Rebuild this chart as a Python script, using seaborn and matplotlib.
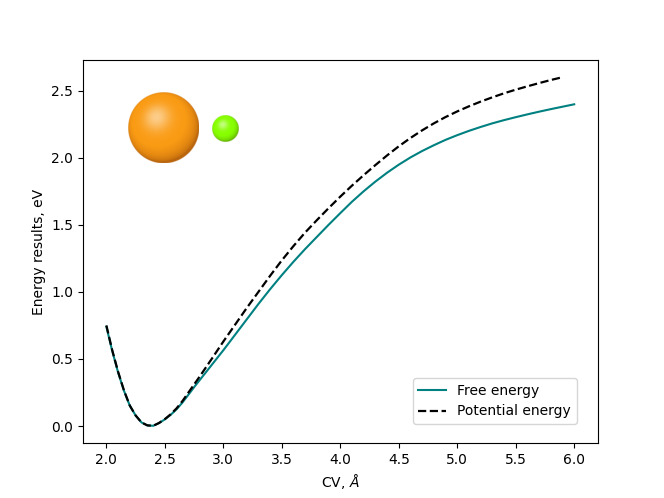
import numpy as np
import pandas as pd
import matplotlib
matplotlib.use("Agg")
import matplotlib.pyplot as plt
import seaborn as sns
from matplotlib.offsetbox import OffsetImage, AnnotationBbox

# ---- data ----
cv_free = [2.00, 2.05, 2.10, 2.15, 2.20, 2.25, 2.30, 2.35, 2.40, 2.45,
           2.50, 2.55, 2.60, 2.65, 2.70, 2.75, 2.80, 2.9,
           3.0, 3.1, 3.2, 3.3, 3.4, 3.5, 3.6, 3.7, 3.8, 3.9,
           4.0, 4.1, 4.2, 4.3, 4.4, 4.5, 4.6, 4.7, 4.8, 4.9,
           5.0, 5.1, 5.2, 5.3, 5.4, 5.5, 5.6, 5.7, 5.8, 5.9, 6.0]
free_energy = [0.74, 0.56, 0.40, 0.264, 0.152, 0.079, 0.027, 0.005, 0.002, 0.022,
               0.05, 0.084, 0.125, 0.175, 0.232, 0.29, 0.345, 0.455,
               0.565, 0.68, 0.795, 0.91, 1.02, 1.125, 1.225, 1.32, 1.41, 1.50,
               1.587, 1.672, 1.75, 1.822, 1.888, 1.948, 2.002, 2.05, 2.093, 2.133,
               2.168, 2.2, 2.229, 2.256, 2.28, 2.302, 2.323, 2.343, 2.362, 2.38, 2.398]

cv_pot = [2.00, 2.05, 2.10, 2.15, 2.20, 2.25, 2.30, 2.35, 2.40, 2.45,
          2.50, 2.55, 2.60, 2.65, 2.70, 2.75, 2.80, 2.9,
          3.0, 3.1, 3.2, 3.3, 3.4, 3.5, 3.6, 3.7, 3.8, 3.9,
          4.0, 4.1, 4.2, 4.3, 4.4, 4.5, 4.6, 4.7, 4.8, 4.9,
          5.0, 5.1, 5.2, 5.3, 5.4, 5.5, 5.6, 5.7, 5.8, 5.9]
potential_energy = [0.75, 0.565, 0.405, 0.266, 0.153, 0.079, 0.027, 0.005, 0.002, 0.023,
                    0.052, 0.088, 0.132, 0.186, 0.248, 0.31, 0.372, 0.50,
                    0.63, 0.755, 0.88, 1.00, 1.12, 1.235, 1.342, 1.443, 1.535, 1.624,
                    1.71, 1.792, 1.87, 1.945, 2.017, 2.085, 2.147, 2.204, 2.256, 2.303,
                    2.345, 2.383, 2.418, 2.45, 2.48, 2.507, 2.532, 2.556, 2.579, 2.60]

labels = ["Free energy", "Potential energy"]

df_free = pd.DataFrame({"cv": cv_free, "e": free_energy})
df_pot = pd.DataFrame({"cv": cv_pot, "e": potential_energy})

fig, ax = plt.subplots(figsize=(6.64, 4.98), dpi=100)

sns.lineplot(data=df_free, x="cv", y="e", color="teal", linewidth=1.5,
             label=labels[0], ax=ax)
sns.lineplot(data=df_pot, x="cv", y="e", color="black", linewidth=1.6,
             linestyle="--", label=labels[1], ax=ax)

ax.set_xlabel(r"CV, $\AA$")
ax.set_ylabel("Energy results, eV")
ax.legend(loc=(0.641, 0.05))


# ---- decorative shaded spheres (atoms) ----
def sphere(radius_px, base, edge, ss=4):
    n = int(2 * radius_px * ss) + 2
    c = (n - 1) / 2.0
    yy, xx = np.mgrid[0:n, 0:n]
    x = (xx - c) / (radius_px * ss)
    y = -(yy - c) / (radius_px * ss)
    r2 = x ** 2 + y ** 2
    z = np.sqrt(np.clip(1 - r2, 0, 1))
    L = np.array([-0.2, 0.3, 0.93])
    L = L / np.linalg.norm(L)
    d = np.clip(x * L[0] + y * L[1] + z * L[2], 0, 1)
    base = np.array(base) / 255.0
    edge = np.array(edge) / 255.0
    t = d[..., None] ** 0.7
    col = edge + (base - edge) * np.clip(t * 1.35, 0, 1)
    spec = (np.clip(d, 0, 1) ** 14)[..., None] * 0.5
    col = col + (1 - col) * spec
    alpha = np.clip((1 - np.sqrt(r2)) * radius_px + 0.5, 0, 1)
    img = np.dstack([np.clip(col, 0, 1), alpha])
    m = (n // ss) * ss
    img = img[:m, :m].reshape(m // ss, ss, m // ss, ss, 4).mean(axis=(1, 3))
    return img


orange = sphere(35.5, (250, 155, 20), (185, 100, 12))
green = sphere(13.3, (135, 255, 0), (100, 180, 0))

for img, pos in [(orange, (2.487, 2.225)), (green, (3.017, 2.215))]:
    ab = AnnotationBbox(OffsetImage(img, zoom=1, dpi_cor=False), pos,
                        frameon=False, pad=0, xycoords="data", zorder=3)
    ax.add_artist(ab)

fig.savefig("out.png", dpi=100)
